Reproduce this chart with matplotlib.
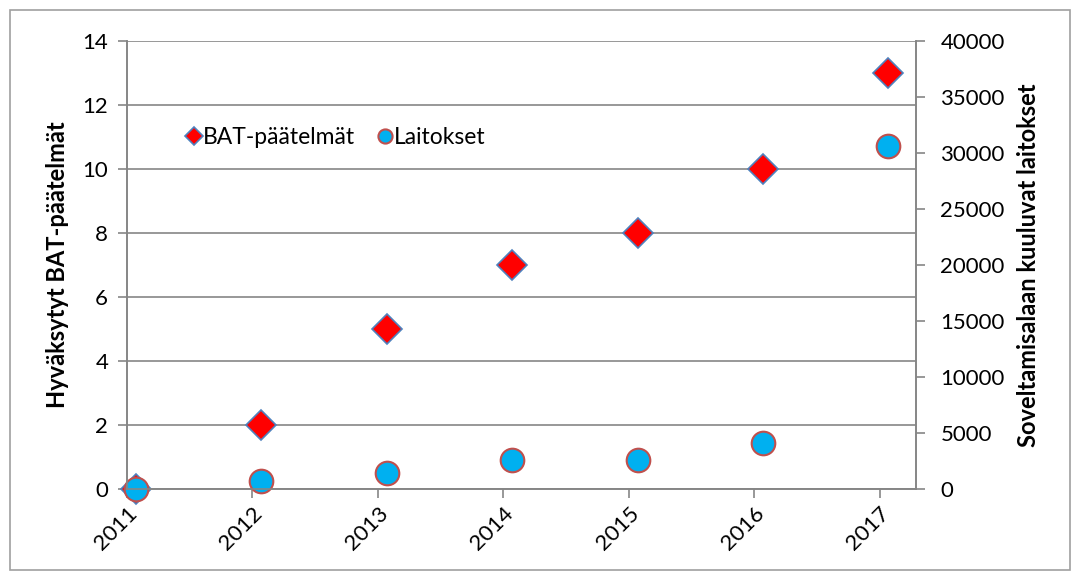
import matplotlib.pyplot as plt
from matplotlib.patches import Rectangle

plt.rcParams['font.family'] = ['Lato', 'DejaVu Sans']

# data
vuodet = [2011.07, 2012.07, 2013.07, 2014.07, 2015.07, 2016.07, 2017.07]
tick_vuodet = [2011, 2012, 2013, 2014, 2015, 2016, 2017]
bat = [0, 2, 5, 7, 8, 10, 13]
laitokset = [0, 700, 1400, 2550, 2600, 4080, 30600]

fig = plt.figure(figsize=(10.78, 5.8), dpi=100)
ax = fig.add_axes([127 / 1078, 1 - 489 / 580, (916 - 127) / 1078, (489 - 41) / 580])
ax2 = ax.twinx()

grid_c = '#868686'

# BAT-päätelmät (vasen akseli)
h1, = ax.plot(vuodet, bat, linestyle='none', marker='D', markersize=15,
              markerfacecolor='#FF0000', markeredgecolor='#4F81BD',
              markeredgewidth=1.2, label='BAT-päätelmät', clip_on=False)
# Laitokset (oikea akseli)
h2, = ax2.plot(vuodet, laitokset, linestyle='none', marker='o', markersize=17,
               markerfacecolor='#00B0F0', markeredgecolor='#C0504D',
               markeredgewidth=1.5, label='Laitokset', clip_on=False)

ax.set_xlim(2011, 2017.29)
ax.set_ylim(0, 14)
ax.set_yticks(range(0, 15, 2))
ax2.set_ylim(0, 40000)
ax2.set_yticks(range(0, 40001, 5000))
ax.set_xticks(tick_vuodet)
ax.set_xticklabels([str(v) for v in tick_vuodet], rotation=45, ha='right',
                   rotation_mode='anchor')

ax.grid(axis='y', color=grid_c, linewidth=1.2)
ax.set_axisbelow(True)

for a in (ax, ax2):
    for s in a.spines.values():
        s.set_color(grid_c)
        s.set_linewidth(1.2)
    a.spines['top'].set_visible(False)
    a.tick_params(colors=grid_c, labelcolor='black', labelsize=16,
                  length=6.5, width=1.2)
ax.tick_params(axis='y', pad=7)
ax2.tick_params(axis='y', pad=11)
ax.tick_params(axis='x', pad=4)

ax.set_ylabel('Hyväksytyt BAT-päätelmät', fontsize=17, fontweight='bold', labelpad=10)
ax2.set_ylabel('Soveltamisalaan kuuluvat laitokset', fontsize=17,
               fontweight='bold', labelpad=9)

ax2.legend(handles=[h1, h2], loc='center left', bbox_to_anchor=(0.05, 0.785),
           ncol=2, frameon=False, fontsize=16.5, handlelength=0.6,
           handletextpad=0.1, columnspacing=1.0, markerscale=0.6)

fig.add_artist(Rectangle((10 / 1078, 10 / 580), 1060 / 1078, 560 / 580,
                         transform=fig.transFigure, fill=False,
                         edgecolor='#A0A0A0', linewidth=1.2))

fig.savefig('out.png', dpi=100)
